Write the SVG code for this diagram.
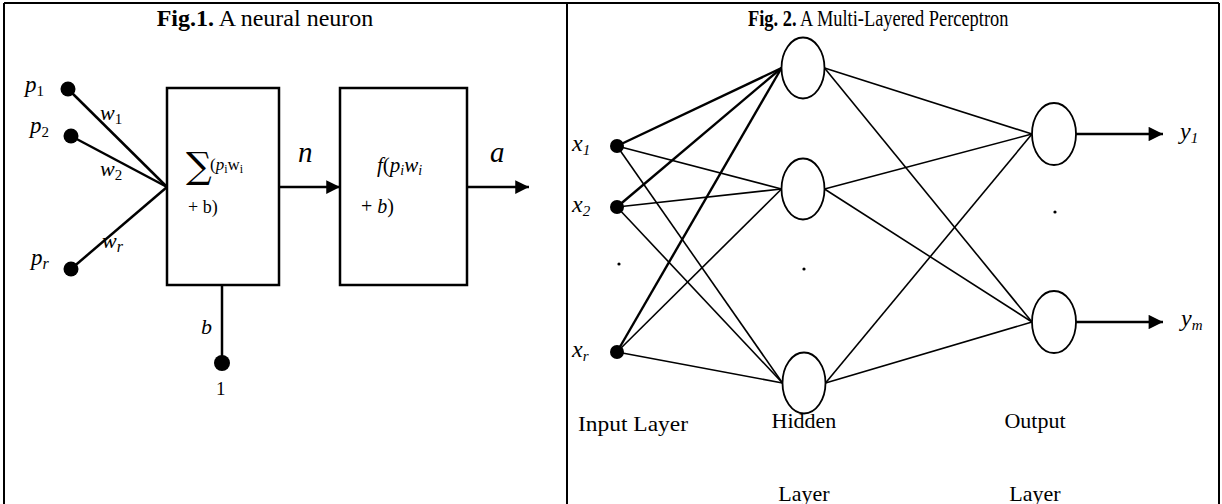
<svg xmlns="http://www.w3.org/2000/svg" width="1222" height="504" viewBox="0 0 1222 504">
<style>
.frame{fill:none;stroke:#000;stroke-width:2}
.box{fill:#fff;stroke:#000;stroke-width:2.5}
.ln{stroke:#000;stroke-width:2.5;fill:none}
.ln2{stroke:#000;stroke-width:1.6;fill:none}
.ln3{stroke:#000;stroke-width:2.4;fill:none}
.node{fill:#fff;stroke:#000;stroke-width:1.8}
.dot{fill:#000}
.t{font-family:"Liberation Serif","Times New Roman",serif;fill:#000}
.m{font-family:"Liberation Serif","Times New Roman",serif;font-style:italic;fill:#000}
</style>
<defs>
<marker id="ah" viewBox="0 0 10 10" refX="10" refY="5" markerWidth="6.5" markerHeight="5.5" markerUnits="strokeWidth" orient="auto"><path d="M0,0 L10,5 L0,10 Z" fill="#000"/></marker>
<marker id="ah2" viewBox="0 0 10 10" refX="10" refY="5" markerWidth="8" markerHeight="6" markerUnits="strokeWidth" orient="auto"><path d="M0,0 L10,5 L0,10 Z" fill="#000"/></marker>
</defs>
<rect width="1222" height="504" fill="#fff"/>
<g id="frame">
<line class="frame" x1="4" y1="3" x2="1219" y2="3"/>
<line class="frame" x1="4" y1="3" x2="4" y2="504"/>
<line class="frame" x1="567" y1="3" x2="567" y2="504"/>
<line class="frame" x1="1219" y1="3" x2="1219" y2="504"/>
</g>
<text class="t" x="265" y="26" font-size="24" text-anchor="middle"><tspan font-weight="bold">Fig.1.</tspan> A neural neuron</text>
<text class="t" font-size="23" transform="translate(748,26) scale(0.8,1)"><tspan font-weight="bold">Fig. 2.</tspan> A Multi-Layered Perceptron</text>
<g id="connectors">
<line class="ln" x1="68" y1="89" x2="167" y2="187"/>
<line class="ln" x1="71" y1="136" x2="167" y2="187"/>
<line class="ln" x1="71" y1="269" x2="167" y2="187"/>
<line class="ln" x1="222" y1="285" x2="222" y2="363"/>
<line class="ln" x1="279" y1="187" x2="340" y2="187" marker-end="url(#ah)"/>
<line class="ln" x1="467" y1="187" x2="529" y2="187" marker-end="url(#ah)"/>
<line class="ln3" x1="617" y1="146" x2="781.5" y2="68"/>
<line class="ln3" x1="617" y1="207" x2="781.5" y2="68"/>
<line class="ln3" x1="617" y1="352" x2="781.5" y2="68"/>
<line class="ln2" x1="617" y1="146" x2="781.5" y2="189"/>
<line class="ln2" x1="617" y1="207" x2="781.5" y2="189"/>
<line class="ln2" x1="617" y1="352" x2="781.5" y2="189"/>
<line class="ln2" x1="617" y1="146" x2="782.5" y2="383"/>
<line class="ln2" x1="617" y1="207" x2="782.5" y2="383"/>
<line class="ln2" x1="617" y1="352" x2="782.5" y2="383"/>
<line class="ln2" x1="824.5" y1="68" x2="1032" y2="134"/>
<line class="ln2" x1="824.5" y1="68" x2="1032" y2="322"/>
<line class="ln2" x1="824.5" y1="189" x2="1032" y2="134"/>
<line class="ln2" x1="824.5" y1="189" x2="1032" y2="322"/>
<line class="ln2" x1="825.5" y1="383" x2="1032" y2="134"/>
<line class="ln2" x1="825.5" y1="383" x2="1032" y2="322"/>
<line class="ln3" x1="1076" y1="134" x2="1163" y2="134" marker-end="url(#ah2)"/>
<line class="ln3" x1="1076" y1="322" x2="1163" y2="322" marker-end="url(#ah2)"/>
</g>
<g id="p1"><circle class="dot" cx="68" cy="89" r="7.5"/><text class="m" x="25" y="92" font-size="23">p<tspan font-style="normal" font-size="15" dy="4">1</tspan></text></g>
<g id="p2"><circle class="dot" cx="71" cy="136" r="7.5"/><text class="m" x="30" y="133" font-size="23">p<tspan font-style="normal" font-size="15" dy="4">2</tspan></text></g>
<g id="pr"><circle class="dot" cx="71" cy="269" r="7.5"/><text class="m" x="31" y="265" font-size="23">p<tspan font-size="16" dy="4">r</tspan></text></g>
<g id="weights">
<text class="m" x="100" y="120" font-size="22">w<tspan font-style="normal" font-size="15" dy="4">1</tspan></text>
<text class="m" x="100" y="176" font-size="22">w<tspan font-style="normal" font-size="15" dy="4">2</tspan></text>
<text class="m" x="102" y="248" font-size="22">w<tspan font-size="16" dy="4">r</tspan></text>
</g>
<g id="sum">
<rect class="box" x="167" y="88" width="112" height="197"/>
<text x="186" y="178" font-size="36" font-family="'DejaVu Serif',serif">∑</text>
<text class="t" x="210" y="170" font-size="17">(<tspan font-style="italic">p</tspan><tspan font-size="12" dy="3">i</tspan><tspan dy="-3">w</tspan><tspan font-size="12" dy="3">i</tspan></text>
<text class="t" x="188" y="213" font-size="18">+ b)</text>
</g>
<g id="act">
<rect class="box" x="340" y="88" width="127" height="197"/>
<text class="m" x="377" y="172" font-size="21">f<tspan font-style="normal">(</tspan>p<tspan font-size="14" dy="3">i</tspan><tspan dy="-3">w</tspan><tspan font-size="14" dy="3">i</tspan></text>
<text class="t" x="361" y="213" font-size="20">+ <tspan font-style="italic">b</tspan>)</text>
</g>
<text class="m" x="298" y="162" font-size="29">n</text>
<text class="m" x="490" y="162" font-size="29">a</text>
<g id="bias"><circle class="dot" cx="222" cy="363" r="8"/><text class="m" x="201" y="334" font-size="22">b</text><text class="t" x="216" y="395" font-size="19">1</text></g>
<g id="x1"><circle class="dot" cx="617" cy="146" r="7"/><text class="m" x="572" y="151" font-size="24">x<tspan font-size="15" dy="4">1</tspan></text></g>
<g id="x2"><circle class="dot" cx="617" cy="207" r="7"/><text class="m" x="572" y="212" font-size="24">x<tspan font-size="15" dy="4">2</tspan></text></g>
<circle class="dot" cx="619" cy="264" r="1.6"/>
<g id="xr"><circle class="dot" cx="617" cy="352" r="7"/><text class="m" x="572" y="357" font-size="24">x<tspan font-size="15" dy="4">r</tspan></text></g>
<g id="h1"><ellipse class="node" cx="803" cy="68" rx="21.5" ry="30.5"/></g>
<g id="h2"><ellipse class="node" cx="803" cy="189" rx="21.5" ry="30.5"/></g>
<circle class="dot" cx="804" cy="269" r="1.6"/>
<g id="h3"><ellipse class="node" cx="804" cy="383" rx="21.5" ry="30.5"/></g>
<g id="o1"><ellipse class="node" cx="1054" cy="134" rx="22" ry="31"/></g>
<circle class="dot" cx="1055" cy="212" r="1.6"/>
<g id="om"><ellipse class="node" cx="1054" cy="322" rx="22" ry="31"/></g>
<text class="m" x="1180" y="139" font-size="24">y<tspan font-size="15" dy="4">1</tspan></text>
<text class="m" x="1181" y="326" font-size="24">y<tspan font-size="15" dy="4">m</tspan></text>
<g id="labels">
<text class="t" x="578" y="431" font-size="22" textLength="110" lengthAdjust="spacingAndGlyphs">Input Layer</text>
<text class="t" x="804" y="428" font-size="22" text-anchor="middle">Hidden</text>
<text class="t" x="804" y="501" font-size="22" text-anchor="middle">Layer</text>
<text class="t" x="1035" y="428" font-size="22" text-anchor="middle">Output</text>
<text class="t" x="1035" y="501" font-size="22" text-anchor="middle">Layer</text>
</g>
</svg>
